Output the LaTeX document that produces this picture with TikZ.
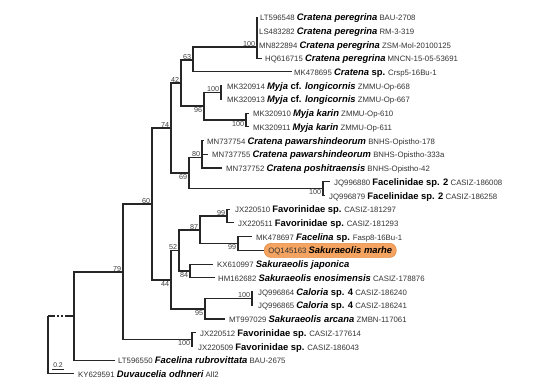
\documentclass[tikz,border=0pt]{standalone}
\usepackage{fontspec}
\setmainfont{Liberation Sans}
\definecolor{br}{HTML}{262626}
\definecolor{txt}{HTML}{333333}
\definecolor{hl}{RGB}{244,164,96}
\definecolor{hlb}{RGB}{226,138,66}
\newcommand{\acc}[1]{{\fontsize{7.8}{9}\selectfont\color{txt}#1}}
\newcommand{\spn}[1]{{\fontsize{9.4}{11}\selectfont\bfseries\itshape #1}}
\newcommand{\spu}[1]{{\fontsize{9.4}{11}\selectfont\bfseries #1}}
\begin{document}
\begin{tikzpicture}[x=1pt,y=-1pt,
  branch/.style={draw=br,line width=1.1pt},
  lab/.style={anchor=west,inner sep=0pt,text height=7pt,text depth=0pt,font=\fontsize{7.8}{9}\selectfont},
  bsa/.style={anchor=south east,inner sep=0.7pt,font=\fontsize{7.2}{8}\selectfont,text=black!75},
  bsb/.style={anchor=north east,inner sep=0.7pt,font=\fontsize{7.2}{8}\selectfont,text=black!75},
  hlbox/.style={anchor=west,fill=hl,draw=hlb,line width=0.6pt,rounded corners=6.5pt,minimum height=14pt,inner xsep=4pt,inner ysep=0pt,text height=7pt,text depth=0pt,font=\fontsize{7.8}{9}\selectfont}]
\useasboundingbox (0,0) rectangle (550,389);
% tip coordinates
\coordinate (e1) at (257,17.0);
\coordinate (e2) at (257,30.7);
\coordinate (e3) at (257,44.5);
\coordinate (e4) at (262,58.2);
\coordinate (e5) at (292,71.9);
\coordinate (e6) at (222,85.7);
\coordinate (e7) at (222,99.4);
\coordinate (e8) at (249,113.1);
\coordinate (e9) at (249,126.8);
\coordinate (e10) at (204,140.6);
\coordinate (e11) at (208,154.3);
\coordinate (e12) at (222,168.0);
\coordinate (e13) at (330,181.8);
\coordinate (e14) at (325,195.5);
\coordinate (e15) at (230,209.2);
\coordinate (e16) at (234,222.9);
\coordinate (e17) at (252,236.7);
\coordinate (e19) at (213,264.1);
\coordinate (e20) at (215,277.8);
\coordinate (e21) at (253,291.6);
\coordinate (e22) at (253,305.3);
\coordinate (e23) at (225,319.0);
\coordinate (e24) at (196,332.8);
\coordinate (e25) at (193,346.5);
\coordinate (e26) at (115,360.2);
\coordinate (e27) at (74,373.9);
% internal nodes
\coordinate (pA) at (257,47);
\coordinate (n63) at (193,60);
\coordinate (mL) at (221,92.5);
\coordinate (mK) at (246,120);
\coordinate (n96) at (204,106);
\coordinate (n42) at (181,83);
\coordinate (z80) at (202,147.5);
\coordinate (n80) at (202,157.5);
\coordinate (n69) at (189,173);
\coordinate (f100) at (323,188.6);
\coordinate (n74) at (171,128);
\coordinate (fv99) at (227,216);
\coordinate (m99) at (238,243.5);
\coordinate (n87) at (200,230);
\coordinate (n84) at (190,271);
\coordinate (n52) at (179,250.5);
\coordinate (c100) at (252,298.5);
\coordinate (n95) at (205,309);
\coordinate (n44) at (171,280);
\coordinate (n60) at (152,204);
\coordinate (fs100) at (192,339.6);
\coordinate (n79) at (123,272);
\coordinate (n0) at (74,316);
\coordinate (root) at (48,345);
\coordinate (rb) at (48,316);
% labels
\node[lab] (t1) at (260,17.0) {\acc{LT596548} \spn{Cratena peregrina} \acc{BAU-2708}};
\node[lab] (t2) at (259,30.7) {\acc{LS483282} \spn{Cratena peregrina} \acc{RM-3-319}};
\node[lab] (t3) at (259,44.5) {\acc{MN822894} \spn{Cratena peregrina} \acc{ZSM-Mol-20100125}};
\node[lab] (t4) at (265,58.2) {\acc{HQ616715} \spn{Cratena peregrina} \acc{MNCN-15-05-53691}};
\node[lab] (t5) at (294,71.9) {\acc{MK478695} \spu{\itshape Cratena \upshape sp.} \acc{Crsp5-16Bu-1}};
\node[lab] (t6) at (227,85.7) {\acc{MK320914} \spu{\itshape Myja \upshape cf. \itshape longicornis} \acc{ZMMU-Op-668}};
\node[lab] (t7) at (227,99.4) {\acc{MK320913} \spu{\itshape Myja \upshape cf. \itshape longicornis} \acc{ZMMU-Op-667}};
\node[lab] (t8) at (253,113.1) {\acc{MK320910} \spn{Myja karin} \acc{ZMMU-Op-610}};
\node[lab] (t9) at (253,126.8) {\acc{MK320911} \spn{Myja karin} \acc{ZMMU-Op-611}};
\node[lab] (t10) at (207,140.6) {\acc{MN737754} \spn{Cratena pawarshindeorum} \acc{BNHS-Opistho-178}};
\node[lab] (t11) at (212,154.3) {\acc{MN737755} \spn{Cratena pawarshindeorum} \acc{BNHS-Opistho-333a}};
\node[lab] (t12) at (226,168.0) {\acc{MN737752} \spn{Cratena poshitraensis} \acc{BNHS-Opistho-42}};
\node[lab] (t13) at (334,181.8) {\acc{JQ996880} \spu{Facelinidae sp. 2} \acc{CASIZ-186008}};
\node[lab] (t14) at (329,195.5) {\acc{JQ996879} \spu{Facelinidae sp. 2} \acc{CASIZ-186258}};
\node[lab] (t15) at (235,209.2) {\acc{JX220510} \spu{Favorinidae sp.} \acc{CASIZ-181297}};
\node[lab] (t16) at (238,222.9) {\acc{JX220511} \spu{Favorinidae sp.} \acc{CASIZ-181293}};
\node[lab] (t17) at (256,236.7) {\acc{MK478697} \spu{\itshape Facelina \upshape sp.} \acc{Fasp8-16Bu-1}};
\node[hlbox] (t18) at (264,250.4) {\acc{OQ145163} \spn{Sakuraeolis marhe}};
\node[lab] (t19) at (217,264.1) {\acc{KX610997} \spn{Sakuraeolis japonica}};
\node[lab] (t20) at (218,277.8) {\acc{HM162682} \spn{Sakuraeolis enosimensis} \acc{CASIZ-178876}};
\node[lab] (t21) at (258,291.6) {\acc{JQ996864} \spu{\itshape Caloria \upshape sp. 4} \acc{CASIZ-186240}};
\node[lab] (t22) at (258,305.3) {\acc{JQ996865} \spu{\itshape Caloria \upshape sp. 4} \acc{CASIZ-186241}};
\node[lab] (t23) at (229,319.0) {\acc{MT997029} \spn{Sakuraeolis arcana} \acc{ZMBN-117061}};
\node[lab] (t24) at (200,332.8) {\acc{JX220512} \spu{Favorinidae sp.} \acc{CASIZ-177614}};
\node[lab] (t25) at (198,346.5) {\acc{JX220509} \spu{Favorinidae sp.} \acc{CASIZ-186043}};
\node[lab] (t26) at (118,360.2) {\acc{LT596550} \spn{Facelina rubrovittata} \acc{BAU-2675}};
\node[lab] (t27) at (78,373.9) {\acc{KY629591} \spn{Duvaucelia odhneri} \acc{All2}};
% branches
\path[branch] (pA) |- (e1) (pA) |- (e2) (pA) |- (e3) (pA) |- (e4);
\path[branch] (n63) |- (pA) (n63) |- (e5);
\path[branch] (n42) |- (n63) (n42) |- (n96);
\path[branch] (n96) |- (mL) (n96) |- (mK);
\path[branch] (mL) |- (e6) (mL) |- (e7);
\path[branch] (mK) |- (e8) (mK) |- (e9);
\path[branch] (n74) |- (n42) (n74) |- (n69);
\path[branch] (n69) |- (n80) (n69) |- (f100);
\path[branch] (n80) |- (z80) (n80) |- (e12);
\path[branch] (z80) |- (e10) (z80) |- (e11);
\path[branch] (f100) |- (e13) (f100) |- (e14);
\path[branch] (n60) |- (n74) (n60) |- (n44);
\path[branch] (n44) |- (n52) (n44) |- (n95);
\path[branch] (n52) |- (n87) (n52) |- (n84);
\path[branch] (n87) |- (fv99) (n87) |- (m99);
\path[branch] (fv99) |- (e15) (fv99) |- (e16);
\path[branch] (m99) |- (e17) (m99) |- (t18.west);
\path[branch] (n84) |- (e19) (n84) |- (e20);
\path[branch] (n95) |- (c100) (n95) |- (e23);
\path[branch] (c100) |- (e21) (c100) |- (e22);
\path[branch] (n79) |- (n60) (n79) |- (fs100);
\path[branch] (fs100) |- (e24) (fs100) |- (e25);
\path[branch] (n0) |- (n79) (n0) |- (e26);
\path[branch] (root) -- (rb) (root) |- (e27);
\path[branch,dash pattern=on 6.5pt off 2.6pt on 1.4pt off 2.6pt on 1.4pt off 2.6pt on 12pt] (rb) -- (n0);
% bootstrap values
\node[bsa] at (256,47) {100};
\node[bsa] at (192,60) {63};
\node[bsa] at (180,83) {42};
\node[bsa] at (170,128) {74};
\node[bsa] at (220,92.5) {100};
\node[bsb] at (203,106.5) {96};
\node[bsb] at (245,120.5) {100};
\node[bsa] at (201,157.5) {80};
\node[bsb] at (188,173.5) {69};
\node[bsb] at (322,189) {100};
\node[bsa] at (151,204) {60};
\node[bsa] at (226,216) {99};
\node[bsa] at (199,230) {87};
\node[bsb] at (237,244) {99};
\node[bsa] at (178,250.5) {52};
\node[bsb] at (189,271.5) {84};
\node[bsb] at (170,280.5) {44};
\node[bsa] at (251,298.5) {100};
\node[bsb] at (204,309.5) {95};
\node[bsa] at (122,272) {79};
\node[bsb] at (191,340) {100};
% scale bar
\coordinate (sb1) at (52,369);
\coordinate (sb2) at (64,369);
\draw[draw=br,line width=0.9pt] (sb1) -- (sb2);
\node[anchor=south,inner sep=0.8pt,font=\fontsize{6.8}{8}\selectfont,text=black!80] (sbl) at (58,368.5) {0.2};
\end{tikzpicture}
\end{document}
